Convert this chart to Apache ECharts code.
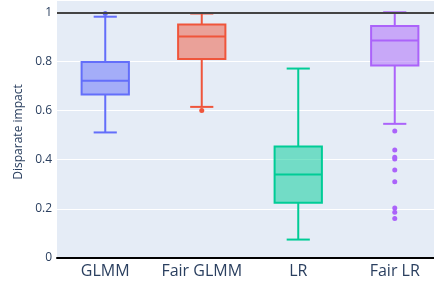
<!DOCTYPE html>
<html>
<head>
<meta charset="utf-8">
<script src="https://cdn.jsdelivr.net/npm/echarts@6/dist/echarts.min.js"></script>
<style>
  html, body { margin: 0; padding: 0; background: #fff; }
  #chart { width: 434px; height: 285px; }
</style>
</head>
<body>
<div id="chart"></div>
<script>
const categories = ["GLMM", "Fair GLMM", "LR", "Fair LR"];
const colors = ["#636efa", "#EF553B", "#00cc96", "#ab63fa"];
const fills = ["rgba(99,110,250,0.5)", "rgba(239,85,59,0.5)", "rgba(0,204,150,0.5)", "rgba(171,99,250,0.5)"];
// [lower whisker, q1, median, q3, upper whisker]
const box_stats = [
    [0.511, 0.665, 0.721, 0.798, 0.982],
    [0.615, 0.810, 0.901, 0.950, 0.995],
    [0.075, 0.225, 0.340, 0.454, 0.771],
    [0.546, 0.783, 0.885, 0.944, 1.0],
];
const outliers = [
    [0.995],
    [0.600],
    [],
    [0.517, 0.440, 0.410, 0.403, 0.358, 0.310, 0.203, 0.186, 0.161],
];

const text_color = "#2a3f5f";
const font = "Open Sans";

let chart = echarts.init(document.getElementById("chart"));

let box_data = box_stats.map((s, i) => [i].concat(s));
let outlier_data = [];
outliers.forEach((vals, i) => vals.forEach(v => outlier_data.push([i, v])));

function render_box(params, api) {
    const i = api.value(0);
    const band = api.size([1, 0])[0];
    const half_box = band * 0.245;
    const half_cap = band * 0.12;
    const p_min = api.coord([i, api.value(1)]);
    const p_q1 = api.coord([i, api.value(2)]);
    const p_med = api.coord([i, api.value(3)]);
    const p_q3 = api.coord([i, api.value(4)]);
    const p_max = api.coord([i, api.value(5)]);
    const x = p_med[0];
    const stroke = { stroke: colors[i], lineWidth: 2 };
    return {
        type: "group",
        children: [
            { type: "line", shape: { x1: x, y1: p_q3[1], x2: x, y2: p_max[1] }, style: stroke },
            { type: "line", shape: { x1: x, y1: p_q1[1], x2: x, y2: p_min[1] }, style: stroke },
            { type: "line", shape: { x1: x - half_cap, y1: p_max[1], x2: x + half_cap, y2: p_max[1] }, style: stroke },
            { type: "line", shape: { x1: x - half_cap, y1: p_min[1], x2: x + half_cap, y2: p_min[1] }, style: stroke },
            {
                type: "rect",
                shape: { x: x - half_box, y: p_q3[1], width: half_box * 2, height: p_q1[1] - p_q3[1] },
                style: { fill: fills[i], stroke: colors[i], lineWidth: 2 },
            },
            { type: "line", shape: { x1: x - half_box, y1: p_med[1], x2: x + half_box, y2: p_med[1] }, style: stroke },
        ],
    };
}

let option = {
    animation: false,
    textStyle: { fontFamily: font },
    grid: {
        left: 57,
        width: 386,
        top: 0,
        height: 258,
        outerBoundsMode: "none",
        show: true,
        backgroundColor: "#E5ECF6",
        borderWidth: 0,
    },
    xAxis: {
        type: "category",
        data: categories,
        boundaryGap: true,
        axisLine: { show: true, lineStyle: { color: "#000", width: 2 } },
        axisTick: { show: false },
        axisLabel: { color: text_color, fontFamily: font, fontSize: 16, margin: 5, interval: 0 },
        splitLine: { show: false },
    },
    yAxis: {
        type: "value",
        min: 0,
        max: 1.05,
        interval: 0.2,
        name: "Disparate impact",
        nameLocation: "middle",
        nameRotate: 90,
        nameGap: 31,
        nameTextStyle: { color: text_color, fontFamily: font, fontSize: 12, padding: [0, 6, 0, 0] },
        axisLine: { show: false },
        axisTick: { show: false },
        axisLabel: { color: text_color, fontFamily: font, fontSize: 12, margin: 5, showMaxLabel: false },
        splitLine: { lineStyle: { color: "#fff", width: 1 } },
    },
    series: [
        {
            type: "custom",
            renderItem: render_box,
            data: box_data,
            encode: { x: 0, y: [1, 2, 3, 4, 5] },
            z: 3,
            markLine: {
                silent: true,
                symbol: "none",
                label: { show: false },
                lineStyle: { color: "#444", width: 2, type: "solid" },
                data: [{ yAxis: 1 }],
            },
        },
        {
            type: "scatter",
            data: outlier_data,
            symbolSize: 5,
            itemStyle: { color: p => colors[p.value[0]], opacity: 1 },
            z: 4,
        },
    ],
};
chart.setOption(option);
</script>
</body>
</html>
